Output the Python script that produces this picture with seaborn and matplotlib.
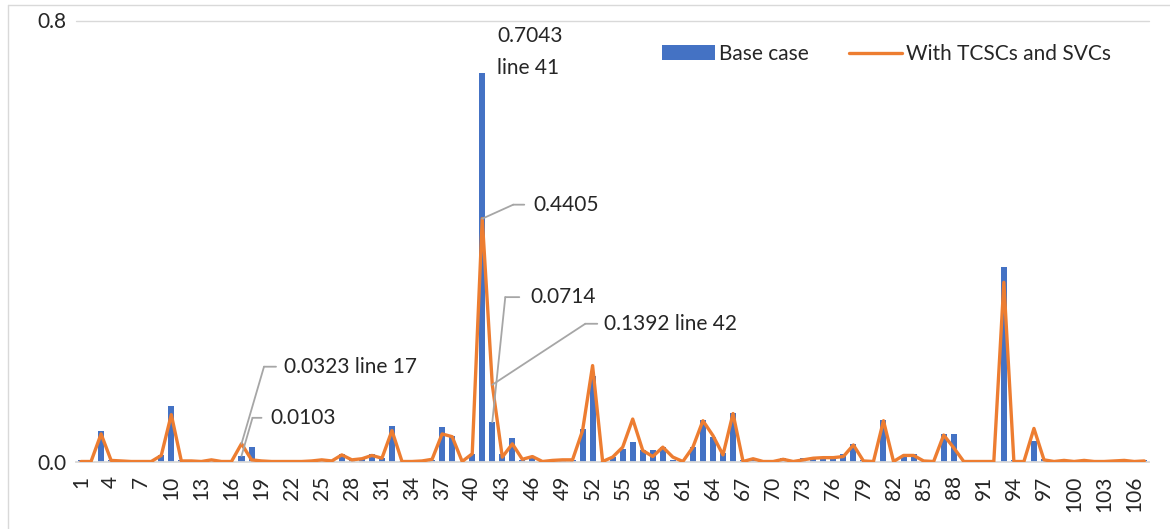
import numpy as np
import pandas as pd
import matplotlib
matplotlib.use("Agg")
import matplotlib.pyplot as plt
from matplotlib.patches import Patch
from matplotlib.lines import Line2D
from matplotlib.transforms import offset_copy
import seaborn as sns

# Line loading index per transmission line (lines 1..107)
line_no = list(range(1, 108))

base_case = [
    0.002, 0.000, 0.056, 0.002, 0.001, 0.001, 0.001, 0.001, 0.012, 0.100,
    0.002, 0.001, 0.001, 0.004, 0.001, 0.000, 0.0103, 0.026, 0.001, 0.001,
    0.001, 0.001, 0.001, 0.001, 0.002, 0.001, 0.014, 0.002, 0.004, 0.014,
    0.007, 0.065, 0.001, 0.000, 0.000, 0.002, 0.062, 0.047, 0.000, 0.014,
    0.7043, 0.0714, 0.013, 0.042, 0.003, 0.008, 0.001, 0.002, 0.003, 0.003,
    0.059, 0.156, 0.001, 0.009, 0.023, 0.035, 0.020, 0.020, 0.027, 0.002,
    0.000, 0.026, 0.076, 0.045, 0.015, 0.088, 0.003, 0.006, 0.001, 0.001,
    0.006, 0.001, 0.006, 0.008, 0.008, 0.008, 0.013, 0.032, 0.002, 0.000,
    0.076, 0.000, 0.009, 0.014, 0.002, 0.000, 0.050, 0.050, 0.000, 0.000,
    0.000, 0.000, 0.353, 0.002, 0.000, 0.038, 0.005, 0.001, 0.002, 0.001,
    0.002, 0.001, 0.001, 0.001, 0.002, 0.001, 0.002,
]

with_devices = [
    0.000, 0.000, 0.050, 0.002, 0.001, 0.000, 0.000, 0.000, 0.011, 0.085,
    0.001, 0.001, 0.000, 0.003, 0.000, 0.000, 0.0323, 0.003, 0.001, 0.000,
    0.000, 0.000, 0.000, 0.001, 0.003, 0.001, 0.012, 0.003, 0.005, 0.011,
    0.006, 0.056, 0.000, 0.000, 0.001, 0.004, 0.050, 0.045, 0.000, 0.014,
    0.4405, 0.1392, 0.008, 0.032, 0.004, 0.009, 0.000, 0.002, 0.003, 0.003,
    0.056, 0.174, 0.000, 0.008, 0.026, 0.077, 0.020, 0.009, 0.026, 0.008,
    0.000, 0.026, 0.074, 0.047, 0.012, 0.087, 0.000, 0.005, 0.000, 0.000,
    0.004, 0.000, 0.003, 0.006, 0.007, 0.007, 0.009, 0.030, 0.001, 0.000,
    0.074, 0.000, 0.011, 0.011, 0.001, 0.000, 0.048, 0.025, 0.000, 0.000,
    0.000, 0.000, 0.325, 0.000, 0.000, 0.060, 0.003, 0.000, 0.002, 0.000,
    0.002, 0.000, 0.000, 0.001, 0.002, 0.000, 0.001,
]

series_names = ["Base case", "With TCSCs and SVCs"]
y_ticks = [0.0, 0.8]

BLUE = "#4472C4"
ORANGE = "#ED7D31"
GRID = "#D9D9D9"
LEADER = "#A6A6A6"
TEXT = "#262626"

sns.set_theme(style="white")
plt.rcParams["font.family"] = ["Lato", "DejaVu Sans"]

W, H = 1170, 529
fig = plt.figure(figsize=(W / 100, H / 100), dpi=100)
ax = fig.add_axes([76 / W, 1 - 461.5 / H, 1073.3 / W, 441 / H])

df = pd.DataFrame({"line": line_no, "base": base_case, "with": with_devices})
df["pos"] = np.arange(len(df))

sns.barplot(data=df, x="line", y="base", color=BLUE, saturation=1,
            width=0.6, linewidth=0, ax=ax, zorder=2)
sns.lineplot(data=df, x="pos", y="with", color=ORANGE, linewidth=2.4,
             ax=ax, zorder=3)

ax.set_xlim(-0.5, len(df) - 0.5)
ax.set_ylim(0, 0.8)
ax.set_xlabel("")
ax.set_ylabel("")

tick_pos = df["pos"].iloc[::3].tolist()
ax.set_xticks(tick_pos)
ax.set_xticklabels([str(v) for v in df["line"].iloc[::3]], rotation=90,
                   fontsize=15, color=TEXT)
ax.set_yticks(y_ticks)
ax.set_yticklabels([f"{v:.1f}" for v in y_ticks], fontsize=15, color=TEXT)
ax.tick_params(axis="x", length=0, pad=10)
ax.tick_params(axis="y", length=0, pad=7)

for s in ["top", "right", "left"]:
    ax.spines[s].set_visible(False)
ax.spines["bottom"].set_color(GRID)
ax.spines["bottom"].set_linewidth(1.3)
ax.axhline(0.8, color=GRID, linewidth=1.0, zorder=1, clip_on=False)

# Data labels with elbow leader lines (offsets in pixels)
def leader_label(i, v, ex, ey, hlen, tx, label):
    x = df["pos"].iloc[i]
    elbow = offset_copy(ax.transData, fig=fig, x=ex, y=ey, units="dots")
    hend = offset_copy(ax.transData, fig=fig, x=ex + hlen, y=ey, units="dots")
    ax.annotate("", xy=(x, v), xycoords="data", xytext=(x, v), textcoords=elbow,
                arrowprops=dict(arrowstyle="-", color=LEADER, lw=1.3,
                                shrinkA=0, shrinkB=0), annotation_clip=False)
    ax.annotate("", xy=(x, v), xycoords=elbow, xytext=(x, v), textcoords=hend,
                arrowprops=dict(arrowstyle="-", color=LEADER, lw=1.3,
                                shrinkA=0, shrinkB=0), annotation_clip=False)
    tpos = offset_copy(ax.transData, fig=fig, x=tx, y=ey, units="dots")
    ax.text(x, v, label, transform=tpos, ha="left", va="center",
            fontsize=15, color=TEXT)

i41 = line_no.index(41)
i42 = line_no.index(42)
i17 = line_no.index(17)

leader_label(i41, with_devices[i41], 31, 14, 11, 51, f"{with_devices[i41]:.4f}")
leader_label(i42, base_case[i42], 13, 125, 14, 38, f"{base_case[i42]:.4f}")
leader_label(i42, with_devices[i42], 93, 61, 12, 112,
             f"{with_devices[i42]:.4f} line 42")
leader_label(i17, with_devices[i17], 22.5, 77, 12, 42.5,
             f"{with_devices[i17]:.4f} line 17")
leader_label(i17, base_case[i17], 11, 38, 9, 28.5, f"{base_case[i17]:.4f}")

# Peak label above the tallest bar
x41 = df["pos"].iloc[i41]
for dy, txt in [(37, f"{base_case[i41]:.4f}"), (5, "line 41")]:
    tpos = offset_copy(ax.transData, fig=fig, x=15, y=dy, units="dots")
    ax.text(x41, base_case[i41], txt, transform=tpos, ha="left", va="center",
            fontsize=15, color=TEXT)

handles = [Patch(facecolor=BLUE, edgecolor="none"),
           Line2D([0], [0], color=ORANGE, linewidth=2.4)]
fig.legend(handles, series_names, loc="center left",
           bbox_to_anchor=(662 / W, 1 - 54 / H), ncol=2, frameon=False,
           fontsize=15, handlelength=2.55, handleheight=0.72,
           handletextpad=0.2, columnspacing=1.9, borderpad=0,
           borderaxespad=0, labelcolor=TEXT)

# Chart area border
fig.add_artist(Line2D([8 / W, 1.0], [1 - 5 / H, 1 - 5 / H],
                      transform=fig.transFigure, color=GRID, linewidth=1.0))
fig.add_artist(Line2D([8 / W, 8 / W], [0.0, 1 - 5 / H],
                      transform=fig.transFigure, color=GRID, linewidth=1.0))

fig.savefig("out.png", dpi=100)
